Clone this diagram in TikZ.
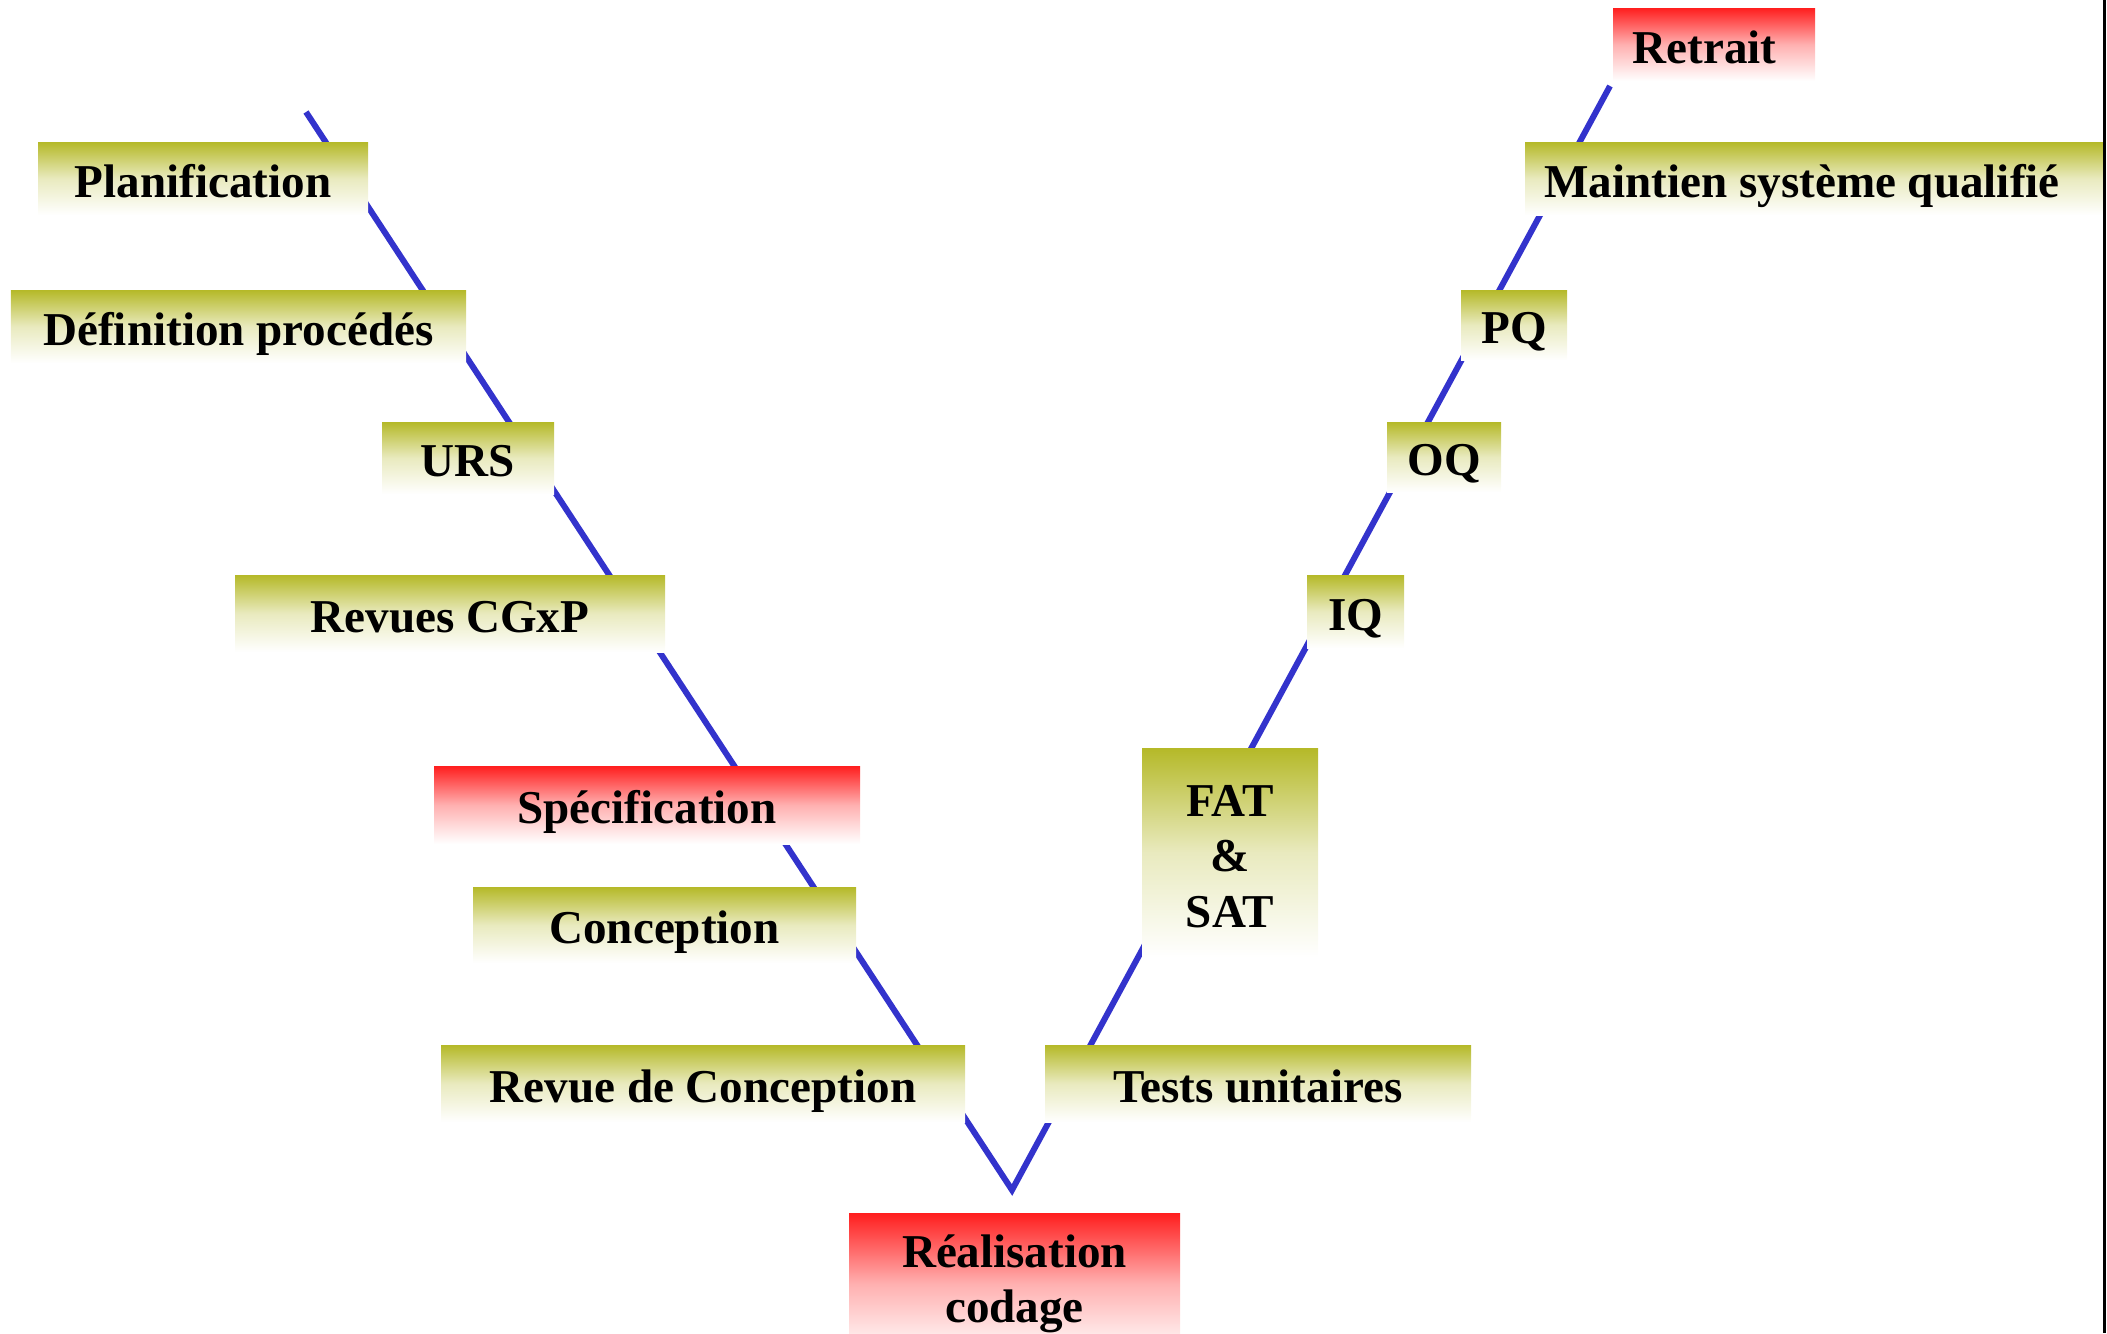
\documentclass[tikz,border=0pt]{standalone}
\usepackage{fontspec}
\setmainfont{Liberation Serif}
\usepackage{tikz}
\definecolor{vline}{RGB}{51,51,204}
\definecolor{phaseolive}{RGB}{181,185,40}
\definecolor{phasered}{RGB}{255,30,30}

\begin{document}
\begin{tikzpicture}[
		olivefill/.style={top color=phaseolive, bottom color=white, middle color=phaseolive!30!white},
		redfill/.style={top color=phasered, bottom color=white, middle color=phasered!35!white},
		tag/.style={inner sep=0pt, align=center, font=\fontsize{13.4}{15.8}\selectfont\bfseries},
		phase/.style={tag, olivefill, text height=0.37cm, text depth=0pt},
		milestone/.style={tag, redfill, text height=0.37cm, text depth=0pt},
		vpath/.style={vline, line width=0.06cm}
	]
		\useasboundingbox (0,0) rectangle (21.07,-13.33);
		\clip (0,0) rectangle (21.07,-13.33);
		\coordinate (vtop) at (3.06,-1.12);
		\coordinate (vbot) at (10.12,-11.90);
		\coordinate (vend) at (16.10,-0.86);
		\draw[vpath] (vtop) -- (vbot) -- (vend);

		\node[phase, minimum width=3.30cm, minimum height=0.73cm] (planif) at (2.03,-1.785) {Planification};
		\node[phase, minimum width=4.55cm, minimum height=0.73cm] (defproc) at (2.385,-3.265) {Définition procédés};
		\node[phase, minimum width=1.72cm, minimum height=0.72cm] (urs) at (4.68,-4.58) {URS};
		\node[phase, minimum width=4.30cm, minimum height=0.77cm] (revcgxp) at (4.50,-6.135) {Revues CGxP};
		\node[milestone, minimum width=4.26cm, minimum height=0.78cm] (spec) at (6.47,-8.05) {Spécification};
		\node[phase, minimum width=3.83cm, minimum height=0.76cm] (concep) at (6.645,-9.25) {Conception};
		\node[phase, minimum width=5.24cm, minimum height=0.77cm] (revconcep) at (7.03,-10.835) {Revue de Conception};
		\node[tag, redfill, minimum width=3.31cm, minimum height=1.42cm] (realis) at (10.145,-12.84) {Réalisation\\codage};
		\node[phase, minimum width=4.26cm, minimum height=0.77cm] (tests) at (12.58,-10.835) {Tests unitaires};
		\node[tag, olivefill, minimum width=1.76cm, minimum height=2.09cm] (fatsat) at (12.30,-8.525) {\rule{0pt}{11.2pt}FAT\\\&\\SAT};
		\node[phase, minimum width=0.97cm, minimum height=0.73cm] (iq) at (13.555,-6.115) {IQ};
		\node[phase, minimum width=1.14cm, minimum height=0.70cm] (oq) at (14.44,-4.57) {OQ};
		\node[phase, minimum width=1.06cm, minimum height=0.70cm] (pq) at (15.14,-3.25) {PQ};
		\node[phase, minimum width=5.78cm, minimum height=0.73cm] (maintien) at (18.14,-1.785) {Maintien système qualifié\hspace*{0.24cm}};
		\node[milestone, minimum width=2.02cm, minimum height=0.73cm] (retrait) at (17.14,-0.445) {Retrait\hspace*{0.19cm}};

		\draw[line width=0.03cm] (21.045,0) -- (21.045,-13.33);
	\end{tikzpicture}
\end{document}
